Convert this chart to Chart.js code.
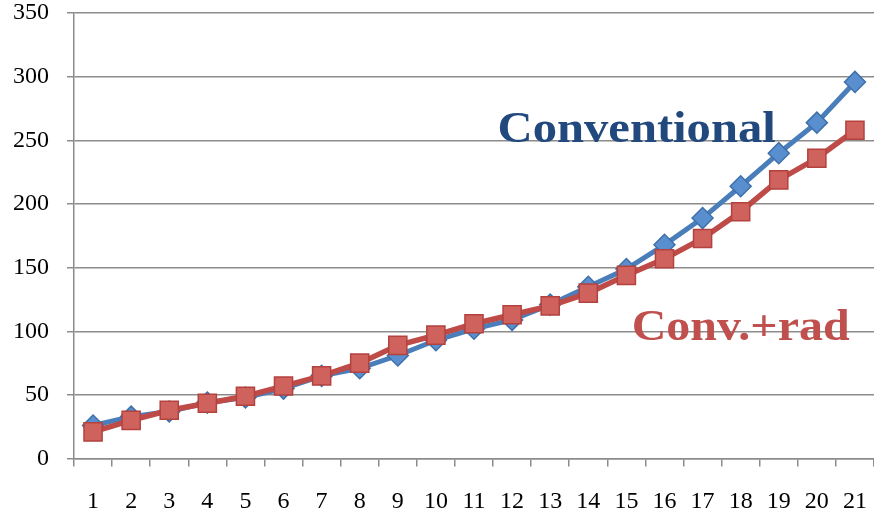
<!DOCTYPE html>
<html>
<head>
<meta charset="utf-8">
<script src="https://cdn.jsdelivr.net/npm/chart.js@4"></script>
<style>
  html, body { margin: 0; padding: 0; background: #ffffff; }
  #wrap { width: 874px; height: 515px; }
</style>
</head>
<body>
<div id="wrap"><canvas id="chart"></canvas></div>
<script>
// Categories along the bottom axis
const categories = ['1','2','3','4','5','6','7','8','9','10','11','12','13','14','15','16','17','18','19','20','21'];

// Series values
const conventional = [26, 33, 37, 44, 48, 55, 65, 71, 81, 93, 102, 109, 121, 135, 149, 168, 189, 214, 240, 264, 296];
const convRad      = [21, 30, 38, 43.5, 49, 57, 65, 75, 89, 97, 106, 113, 120, 130, 144, 157, 173, 194, 219, 236, 258];

// Series names, written on the plot next to their lines
const seriesNames = ['Conventional', 'Conv.+rad'];

// Value axis ticks
const yTicks = [0, 50, 100, 150, 200, 250, 300, 350];

const GRID = '#8c8c8c';
const TICK_FONT = { family: '"Liberation Serif", "Times New Roman", serif', size: 24, lineHeight: 1.1 };

// Writes each series name inside the plot, anchored in data coordinates
// and stretched horizontally to span between two category positions
const seriesLabels = {
  id: 'seriesLabels',
  afterDatasetsDraw(chart) {
    const { ctx, scales: { x, y } } = chart;
    const items = [
      { text: seriesNames[0], color: '#22497e', from: 10.62, to: 17.92, base: 249 },
      { text: seriesNames[1], color: '#c0504d', from: 14.14, to: 19.86, base: 93.5 }
    ];
    ctx.save();
    ctx.font = 'bold 44px "Liberation Serif", "DejaVu Serif", serif';
    ctx.textBaseline = 'alphabetic';
    ctx.textAlign = 'left';
    items.forEach(it => {
      const left = x.getPixelForValue(it.from);
      const right = x.getPixelForValue(it.to);
      const w = ctx.measureText(it.text).width;
      const sx = (right - left) / w;
      ctx.save();
      ctx.translate(left, y.getPixelForValue(it.base));
      ctx.scale(sx, 1);
      ctx.fillStyle = it.color;
      ctx.fillText(it.text, 0, 0);
      ctx.restore();
    });
    ctx.restore();
  }
};

new Chart(document.getElementById('chart'), {
  type: 'line',
  data: {
    labels: categories,
    datasets: [
      {
        label: seriesNames[0],
        data: conventional,
        order: 1,
        borderColor: '#4a7ebb',
        borderWidth: 5,
        backgroundColor: '#5a8fcf',
        pointStyle: 'rectRot',
        pointRadius: 10.5,
        pointBorderColor: '#3f70aa',
        pointBorderWidth: 1.5,
        pointBackgroundColor: '#5a8fcf',
        tension: 0,
        fill: false
      },
      {
        label: seriesNames[1],
        data: convRad,
        order: 0,
        borderColor: '#be4b48',
        borderWidth: 5.5,
        backgroundColor: '#d0625e',
        pointStyle: 'rect',
        pointRadius: 12.8,
        pointBorderColor: '#b3423f',
        pointBorderWidth: 1.5,
        pointBackgroundColor: '#d0625e',
        tension: 0,
        fill: false
      }
    ]
  },
  options: {
    responsive: true,
    maintainAspectRatio: false,
    animation: false,
    layout: { autoPadding: false, padding: { left: 13, right: 0, top: 0, bottom: 0 } },
    plugins: {
      legend: { display: false },
      tooltip: { enabled: false }
    },
    scales: {
      x: {
        offset: true,
        // the label gap should not also widen the outer margins
        afterFit(scale) {
          scale.paddingLeft = 0;
          scale.paddingRight = 0;
          scale.height -= scale.options.ticks.padding;
        },
        grid: {
          display: true,
          offset: true,
          drawOnChartArea: false,
          drawTicks: true,
          tickLength: 8,
          color: GRID,
          lineWidth: 1.5
        },
        border: { display: true, color: GRID, width: 1.5 },
        ticks: {
          color: '#000000',
          padding: 22,
          maxRotation: 0,
          autoSkip: false,
          font: TICK_FONT
        }
      },
      y: {
        min: 0,
        max: 350,
        afterBuildTicks(scale) {
          scale.ticks = yTicks.map(v => ({ value: v }));
        },
        afterFit(scale) {
          const half = TICK_FONT.size * TICK_FONT.lineHeight / 2;
          scale.paddingTop = half;
          scale.paddingBottom = half;
          scale.width -= scale.options.ticks.padding;
        },
        grid: {
          color: GRID,
          lineWidth: 1.5,
          drawTicks: true,
          tickLength: 7
        },
        border: { display: true, color: GRID, width: 1.5 },
        ticks: {
          color: '#000000',
          padding: 18,
          font: TICK_FONT
        }
      }
    }
  },
  plugins: [seriesLabels]
});
</script>
</body>
</html>
